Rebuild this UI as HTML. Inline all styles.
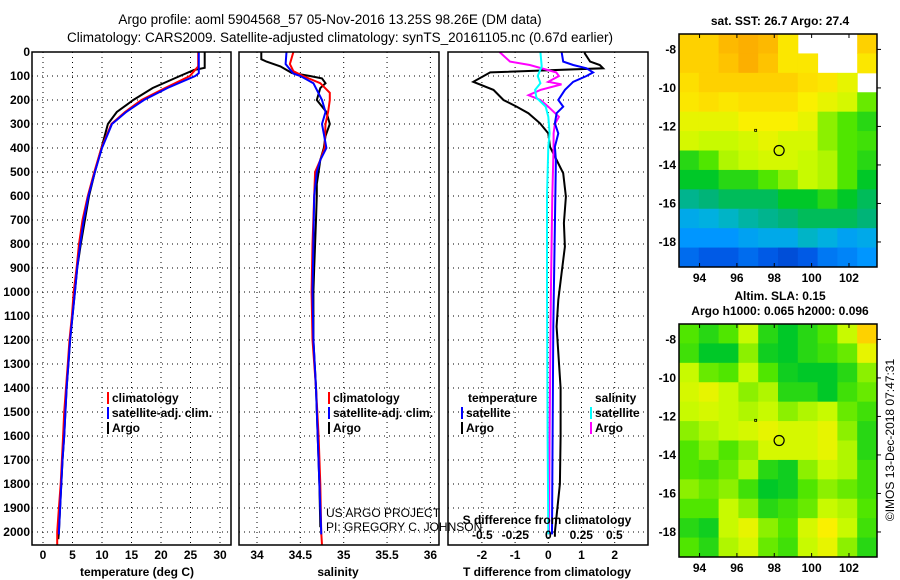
<!DOCTYPE html>
<html><head><meta charset="utf-8"><style>
html,body{margin:0;padding:0;background:#fff;}
svg{display:block;font-family:"Liberation Sans",sans-serif;}
.tk{font-size:12px;font-weight:bold;fill:#000;}
.tt{font-size:13.5px;fill:#000;}
</style></head><body>
<svg id="c" width="900" height="580" viewBox="0 0 900 580">
<text class="tt" x="330" y="24" text-anchor="middle">Argo profile: aoml 5904568_57 05-Nov-2016 13.25S 98.26E (DM data)</text>
<text class="tt" x="340" y="42" text-anchor="middle">Climatology: CARS2009. Satellite-adjusted climatology: synTS_20161105.nc (0.67d earlier)</text>
<g id="g"></g>
</svg>
<script>
// ---- profile data ----
const depthTicks=[0,100,200,300,400,500,600,700,800,900,1000,1100,1200,1300,1400,1500,1600,1700,1800,1900,2000];
const tempTicks=[0,5,10,15,20,25,30];
const salTicks=[34,34.5,35,35.5,36];
const tdiffTicks=[-2,-1,0,1,2];
const sdiffTicks=[-0.5,-0.25,0,0.25,0.5];
const argoTD=[0,66,75,100,150,200,250,300,400,500,600,700,800,900,1000,1100,1200,1300,1400,1500,1600,1700,1800,1900,2000,2030];
const argoT=[27.4,27.4,25.6,23.2,18.6,15.3,12.5,11.0,9.9,8.8,7.8,7.1,6.4,5.8,5.4,5.0,4.6,4.3,4.0,3.8,3.6,3.3,3.1,2.9,2.7,2.6];
const climTD=[0,60,80,100,150,200,250,300,400,500,600,700,800,900,1000,1100,1200,1300,1400,1500,1600,1700,1800,1900,2000,2054];
const climT=[26.3,26.3,25.6,24.9,20.7,16.7,13.9,11.6,9.9,8.7,7.6,6.7,6.1,5.7,5.2,4.9,4.5,4.2,3.9,3.6,3.4,3.2,3.0,2.7,2.4,2.4];
const satTD=[0,70,88,100,150,200,250,300,400,500,600,700,800,900,1000,1100,1200,1300,1400,1500,1600,1700,1800,1900,2000,2010];
const satT=[26.4,26.4,26.4,25.8,21.1,17.1,14.1,11.7,10.0,8.8,7.7,6.9,6.3,5.8,5.4,5.0,4.6,4.3,4.0,3.8,3.6,3.3,3.1,2.9,2.7,2.7];
const argoSD=[0,30,40,60,87,100,110,130,150,200,250,300,350,400,450,500,550,600,700,800,900,1000,1200,1400,1600,1800,1980];
const argoS=[34.05,34.05,34.11,34.27,34.40,34.61,34.75,34.79,34.73,34.69,34.80,34.84,34.79,34.77,34.73,34.71,34.69,34.69,34.68,34.67,34.66,34.65,34.65,34.68,34.70,34.72,34.73];
const climSD=[0,50,80,100,130,170,200,250,300,400,450,500,600,800,1000,1200,1400,1600,1800,2000,2054];
const climS=[34.42,34.38,34.42,34.53,34.73,34.84,34.84,34.82,34.79,34.78,34.73,34.67,34.66,34.64,34.63,34.64,34.68,34.71,34.73,34.74,34.75];
const satSD=[0,50,90,100,130,200,250,300,400,450,500,600,1000,1200,1400,1600,1800,2000,2010];
const satS=[34.34,34.33,34.42,34.50,34.65,34.75,34.79,34.75,34.80,34.73,34.69,34.66,34.64,34.65,34.68,34.70,34.72,34.74,34.74];
const dTaD=[0,6,40,54,68,85,124,158,200,228,255,297,339,395,450,505,603,713,811,921,1033,1144,1400,1600,1800,2000,2020];
const dTa=[1.1,1.1,1.26,1.55,1.65,-1.75,-2.26,-1.65,-1.35,-0.95,-0.6,-0.25,0.0,0.05,0.25,0.45,0.53,0.47,0.5,0.4,0.3,0.25,0.37,0.37,0.35,0.2,0.2];
const dTsD=[0,40,54,68,85,100,124,158,200,228,255,297,339,395,450,1144,1600,2000,2010];
const dTs=[0.4,0.45,0.75,1.15,1.35,1.15,0.75,0.5,0.3,0.45,0.25,0.2,0.3,0.2,0.23,0.15,0.13,0.11,0.11];
const dSaD=[0,40,54,85,100,124,135,158,180,200,228,270,300,339,395,600,1000,1600,2000,2010];
const dSa=[-0.37,-0.29,-0.14,0.06,0.08,0.0,0.1,-0.06,-0.15,-0.06,0.0,0.08,0.05,0.04,0.04,0.03,0.02,0.01,0.005,0.005];
const dSsD=[0,60,100,130,158,190,228,270,339,395,600,1000,1600,2000,2010];
const dSs=[-0.06,-0.05,-0.08,-0.06,-0.1,-0.09,-0.02,0.0,0.01,0.0,-0.01,-0.01,-0.005,0.0,0.0];
// ---- map data (coarse grid, rows top->bottom lat -7.2..-19.3, cols lon 92.9..103.5) ----
const sstGrid=[
[.85,.85,.9,.92,.9,.8,null,null,null,.85],
[.85,.85,.88,.92,.88,.8,.8,null,null,.8],
[.82,.85,.85,.85,.85,.85,.82,.8,.75,null],
[.8,.82,.8,.82,.82,.82,.78,.75,.72,.62],
[.75,.75,.75,.78,.78,.78,.75,.65,.6,.55],
[.72,.7,.7,.72,.75,.72,.72,.65,.6,.58],
[.55,.6,.68,.7,.72,.72,.7,.68,.6,.55],
[.5,.5,.55,.55,.6,.65,.7,.68,.6,.5],
[.4,.42,.45,.45,.45,.5,.5,.55,.5,.45],
[.3,.32,.35,.38,.4,.42,.45,.45,.45,.42],
[.25,.25,.25,.28,.3,.3,.35,.32,.28,.3],
[.18,.15,.15,.18,.15,.12,.15,.2,.22,.25]];
const slaGrid=[
[.6,.55,.6,.7,.55,.5,.55,.6,.7,.85],
[.58,.5,.5,.65,.52,.5,.55,.58,.62,.75],
[.7,.62,.6,.7,.6,.52,.5,.5,.55,.65],
[.72,.75,.7,.65,.68,.55,.55,.5,.58,.62],
[.7,.72,.7,.68,.7,.65,.68,.7,.62,.58],
[.65,.68,.7,.72,.75,.72,.72,.75,.65,.55],
[.6,.65,.6,.65,.72,.72,.72,.75,.68,.55],
[.6,.58,.62,.68,.55,.52,.65,.7,.68,.58],
[.65,.62,.65,.58,.5,.52,.6,.65,.62,.58],
[.6,.6,.7,.65,.55,.58,.62,.7,.68,.6],
[.55,.52,.7,.75,.65,.6,.72,.78,.7,.58],
[.6,.55,.68,.72,.62,.58,.7,.75,.65,.55]];
const lonTicks=[94,96,98,100,102];
const latTicks=[-8,-10,-12,-14,-16,-18];
const argoLon=98.26, argoLat=-13.25;

const NS='http://www.w3.org/2000/svg';
const G=document.getElementById('g');
function mk(t,a,p){const e=document.createElementNS(NS,t);for(const k in a)e.setAttribute(k,a[k]);(p||G).appendChild(e);return e;}
const Y0=52,KY=0.24,BOT=545;
const dY=d=>Y0+d*KY;
const tX=v=>43+v*5.9, sX=v=>257+(v-34)*86.7, dtX=v=>548.3+v*33.2, dsX=v=>548.3+v*132;
const panels=[{x0:32,x1:231,n:'temperature'},{x0:239,x1:439,n:'salinity'},{x0:448,x1:648,n:'difference'}];
// clip
const defs=mk('defs',{});
panels.forEach((p,i)=>{const cp=mk('clipPath',{id:'cp'+i},defs);mk('rect',{x:p.x0,y:Y0,width:p.x1-p.x0,height:BOT-Y0},cp);});
// grids
function grid(p,xs,fx){
  depthTicks.forEach(d=>{const l=mk('line',{x1:p.x0,x2:p.x1,y1:dY(d),y2:dY(d),stroke:'#000','stroke-width':1,'stroke-dasharray':'1,4'});
  });
  xs.forEach(v=>{const l=mk('line',{x1:fx(v),x2:fx(v),y1:Y0,y2:BOT,stroke:'#000','stroke-width':1,'stroke-dasharray':'1,4'});
  });
}
grid(panels[0],tempTicks,tX);grid(panels[1],salTicks,sX);grid(panels[2],tdiffTicks,dtX);
function line(ds,vs,fx,col,ci,name){
  const pts=ds.map((d,i)=>fx(vs[i]).toFixed(1)+','+dY(d).toFixed(1)).join(' ');
  const e=mk('polyline',{points:pts,fill:'none',stroke:col,'stroke-width':2,'clip-path':'url(#cp'+ci+')'});
  
  
}
line(argoTD,argoT,tX,'#000',0,'argo-temperature-line');
line(climTD,climT,tX,'#f00',0,'climatology-temperature-line');
line(satTD,satT,tX,'#00f',0,'satellite-temperature-line');
line(argoSD,argoS,sX,'#000',1,'argo-salinity-line');
line(climSD,climS,sX,'#f00',1,'climatology-salinity-line');
line(satSD,satS,sX,'#00f',1,'satellite-salinity-line');
line(dTaD,dTa,dtX,'#000',2,'argo-t-diff-line');
line(dSaD,dSa,dsX,'#f0f',2,'argo-s-diff-line');
line(dSsD,dSs,dsX,'#0ff',2,'satellite-s-diff-line');
line(dTsD,dTs,dtX,'#00f',2,'satellite-t-diff-line');
// frames
panels.forEach(p=>{const r=mk('rect',{x:p.x0,y:Y0,width:p.x1-p.x0,height:BOT-Y0,fill:'none',stroke:'#000','stroke-width':1.5});
});
function txt(x,y,s,cls,anchor,name,extra){const e=mk('text',Object.assign({x:x,y:y,'text-anchor':anchor||'middle',class:cls||'tk'},extra||{}));e.textContent=s;
return e;}
depthTicks.forEach(d=>txt(30,dY(d)+4,String(d),'tk','end','depth-tick-label'));
tempTicks.forEach(v=>txt(tX(v),559,String(v),'tk','middle','temperature-tick-label'));
salTicks.forEach(v=>txt(sX(v),559,String(v),'tk','middle','salinity-tick-label'));
tdiffTicks.forEach(v=>txt(dtX(v),559,String(v),'tk','middle','t-diff-tick-label'));
sdiffTicks.forEach(v=>txt(dsX(v),539,String(v),'tk','middle','s-diff-tick-label'));
txt(137,576,'temperature (deg C)','tk','middle','temperature-axis-title');
txt(338,576,'salinity','tk','middle','salinity-axis-title');
txt(547,576,'T difference from climatology','tk','middle','t-diff-axis-title');
txt(547,524,'S difference from climatology','tk','middle','s-diff-axis-title');
txt(326,517,'US ARGO PROJECT','tk','start','project-credit',{style:'font-weight:normal'});
txt(326,531,'PI: GREGORY C. JOHNSON','tk','start','pi-credit',{style:'font-weight:normal'});
function leg(x,y,col,s,name){const r=mk('rect',{x:x,y:y-10,width:2,height:12,fill:col});
txt(x+5,y,s,'tk','start',name);}
leg(107,402,'#f00','climatology','legend-climatology');
leg(107,417,'#00f','satellite-adj. clim.','legend-satellite-adj');
leg(107,432,'#000','Argo','legend-argo');
leg(328,402,'#f00','climatology','legend-sal-climatology');
leg(328,417,'#00f','satellite-adj. clim.','legend-sal-satellite-adj');
leg(328,432,'#000','Argo','legend-sal-argo');
txt(468,402,'temperature','tk','start','legend-temperature-heading');
leg(461,417,'#00f','satellite','legend-t-satellite');
leg(461,432,'#000','Argo','legend-t-argo');
txt(595,402,'salinity','tk','start','legend-salinity-heading');
leg(590,417,'#0ff','satellite','legend-s-satellite');
leg(590,432,'#f0f','Argo','legend-s-argo');
// maps
const stops=[[0,[0,30,160]],[0.15,[0,90,230]],[0.25,[0,150,255]],[0.33,[0,180,220]],[0.42,[0,180,120]],[0.5,[0,200,40]],[0.6,[80,230,0]],[0.7,[200,250,0]],[0.78,[250,240,0]],[0.86,[255,205,0]],[0.95,[250,160,0]],[1,[240,120,0]]];
function cmap(v){for(let i=1;i<stops.length;i++){if(v<=stops[i][0]){const a=stops[i-1],b=stops[i],t=(v-a[0])/(b[0]-a[0]);
return 'rgb('+a[1].map((c,k)=>Math.round(c+(b[1][k]-c)*t)).join(',')+')';}}return 'rgb(240,120,0)';}
const MX0=679,MX1=877,LON0=92.9,LON1=103.5,LAT0=-7.2,LAT1=-19.3;
function drawMap(grid,y0,y1,name){
  const lx=v=>MX0+(v-LON0)/(LON1-LON0)*(MX1-MX0), ly=v=>y0+(v-LAT0)/(LAT1-LAT0)*(y1-y0);
  const rows=grid.length,cols=grid[0].length,cw=(MX1-MX0)/cols,ch=(y1-y0)/rows;
  grid.forEach((row,r)=>row.forEach((v,c)=>{if(v===null)return;
    const e=mk('rect',{x:(MX0+c*cw).toFixed(2),y:(y0+r*ch).toFixed(2),width:(cw+0.5).toFixed(2),height:(ch+0.5).toFixed(2),fill:cmap(v)});
    }));
  const f=mk('rect',{x:MX0,y:y0,width:MX1-MX0,height:y1-y0,fill:'none',stroke:'#000','stroke-width':1.5});
  
  lonTicks.forEach(v=>{mk('line',{x1:lx(v),x2:lx(v),y1:y0,y2:y0+4,stroke:'#000'});mk('line',{x1:lx(v),x2:lx(v),y1:y1,y2:y1-4,stroke:'#000'});
    txt(lx(v),y1+15,String(v),'tk','middle',name+'-lon-label');});
  latTicks.forEach(v=>{mk('line',{x1:MX1,x2:MX1+4,y1:ly(v),y2:ly(v),stroke:'#000'});
    txt(MX0-3,ly(v)+4,String(v),'tk','end',name+'-lat-label');});
  const c=mk('circle',{cx:lx(argoLon),cy:ly(argoLat),r:5,fill:'none',stroke:'#000','stroke-width':1.2});
  
  mk('rect',{x:lx(96.95),y:ly(-12.15),width:2,height:2,fill:'none',stroke:'#000','stroke-width':0.8});
}
drawMap(sstGrid,34,267,'sst-map');
drawMap(slaGrid,324,557,'sla-map');
txt(780,25,'sat. SST: 26.7 Argo: 27.4','tk','middle','sst-map-title');
txt(780,300,'Altim. SLA: 0.15','tk','middle','sla-map-title');
txt(780,315,'Argo h1000: 0.065 h2000: 0.096','tk','middle','sla-map-subtitle');
const cr=txt(0,0,'©IMOS 13-Dec-2018 07:47:31','tk','middle','timestamp-credit',{transform:'translate(894,440) rotate(-90)',style:'font-weight:normal'});
</script>
</body></html>
